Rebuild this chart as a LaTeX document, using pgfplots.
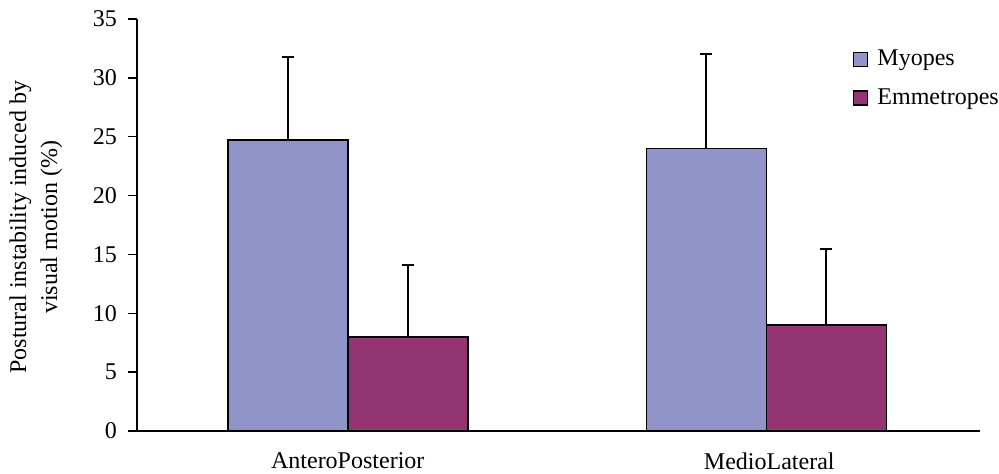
\documentclass[border=0pt]{standalone}
\usepackage{fontspec}
\setmainfont{Liberation Serif}
\usepackage{pgfplots}
\pgfplotsset{compat=1.18}
\definecolor{myopes}{RGB}{144,148,200}
\definecolor{emmet}{RGB}{147,53,115}
\pgfplotsset{
  error bars/error bar style={line width=1pt, black},
  error bars/error mark options={rotate=90, mark size=3pt, line width=1pt, black},
}
\begin{document}
\begin{tikzpicture}[x=1pt,y=1pt]
\useasboundingbox (-68.5,-21.5) rectangle (431,215.5);
\begin{axis}[
  at={(0,0)}, anchor=origin,
  scale only axis, width=421.5pt, height=206pt,
  xmin=0.5, xmax=2.5, ymin=0, ymax=35,
  axis x line=bottom, axis y line=left,
  axis line style={-, line width=1pt},
  ytick={0,5,...,35},
  xtick={1,2}, xticklabels={AnteroPosterior,MedioLateral},
  major x tick style={draw=none},
  extra x ticks={0.5,1.5,2.5}, extra x tick labels={},
  extra x tick style={major tick length=5pt, tick style={line width=0.75pt, black}, tick align=outside},
  tick align=outside, major tick length=4.5pt,
  y tick style={line width=0.75pt, black},
  /pgf/number format/assume math mode=true,
  tick label style={font=\fontsize{12}{14}\selectfont},
  xticklabel style={yshift=-3pt},
  yticklabel style={xshift=-2pt},
  ylabel={Postural instability induced by\\visual motion (\%)},
  ylabel style={at={(axis description cs:-0.12,0.495)}, anchor=center, rotate=0, align=center, font=\fontsize{12}{15.5}\selectfont},
  ybar=0pt, bar width=60pt,
  legend style={at={(rel axis cs:0.8416,0.945)}, anchor=north west, draw=none, fill=none, font=\fontsize{12}{14}\selectfont, row sep=6pt},
  legend cell align=left,
  legend image code/.code={\draw[#1, draw=black, line width=0.8pt] (0pt,-3.5pt) rectangle (7pt,3.5pt); \path (9.5pt,0pt);},
  clip=false,
]
\addplot[fill=myopes, draw=black, line width=0.75pt,
  error bars/.cd, y dir=plus, y explicit]
  coordinates {(1,24.7) +- (0,7.1) (1.993,24.0) +- (0,8.0)};
\addlegendentry{Myopes}
\addplot[fill=emmet, draw=black, line width=0.75pt,
  error bars/.cd, y dir=plus, y explicit]
  coordinates {(1,8.0) +- (0,6.1) (1.993,9.0) +- (0,6.5)};
\addlegendentry{Emmetropes}
\end{axis}
\end{tikzpicture}
\end{document}
